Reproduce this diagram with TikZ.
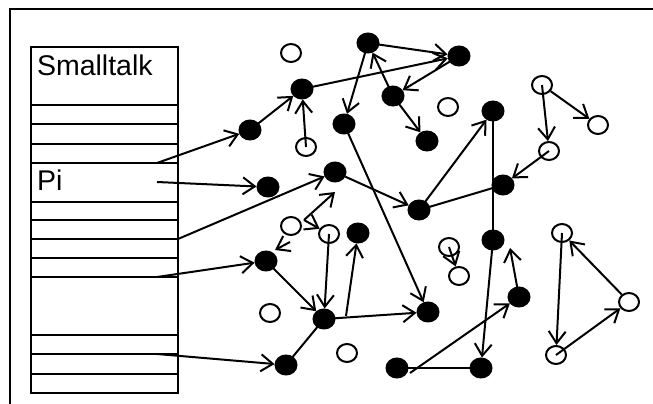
\documentclass[tikz,border=0pt]{standalone}
\usepackage{fontspec}
\setmainfont{Liberation Sans}
\usetikzlibrary{arrows.meta,shapes.geometric}
\begin{document}
\begin{tikzpicture}[x=1pt,y=-1pt,
  line width=2pt,
  full/.style={ellipse,fill=black,draw=black,minimum width=21pt,minimum height=19pt,inner sep=0pt},
  hollow/.style={ellipse,fill=white,draw=black,minimum width=20pt,minimum height=18pt,inner sep=0pt},
  ptr/.style={-{Straight Barb[length=12pt,width=17pt,line width=2pt]}},
  slot/.style={line width=2pt},
  lbl/.style={anchor=base west,inner sep=0pt,font=\fontsize{28.5}{28.5}\selectfont}]
\useasboundingbox (0,0) rectangle (653,404);
% outer frame
\draw[line width=1.4pt] (10,404) -- (10,9) -- (653,9);
% the Smalltalk object with its slots
\draw[slot] (31,47) rectangle (178,393);
\foreach \y in {105,124,144,163,202,220,239,258,277,335,354,374}
  \draw[slot] (31,\y) -- (178,\y);
\node[lbl] (st) at (36,76) {Smalltalk};
\node[lbl] (pi) at (36,190) {Pi};
% slot pointers start here
\coordinate (s1) at (157,163);
\coordinate (s2) at (157,182);
\coordinate (s3) at (178,239);
\coordinate (s4) at (157,277);
\coordinate (s5) at (157,354);
% live objects
\node[full] (b1) at (368,43) {};
\node[full] (b2) at (459,56) {};
\node[full] (b3) at (302,89) {};
\node[full] (b4) at (393,96) {};
\node[full] (b5) at (250,130) {};
\node[full] (b6) at (344,124) {};
\node[full] (b7) at (427,141) {};
\node[full] (b8) at (493,111) {};
\node[full] (b9) at (335,172) {};
\node[full] (b10) at (268,187) {};
\node[full] (b11) at (503,185) {};
\node[full] (b12) at (419,210) {};
\node[full] (b13) at (358,233) {};
\node[full] (b14) at (493,240) {};
\node[full] (b15) at (266,261) {};
\node[full] (b16) at (519,297) {};
\node[full] (b17) at (324,319) {};
\node[full] (b18) at (428,312) {};
\node[full] (b19) at (286,365) {};
\node[full] (b20) at (397,368) {};
\node[full] (b21) at (481,368) {};
% garbage objects
\node[hollow] (w1) at (291,53) {};
\node[hollow] (w2) at (306,147) {};
\node[hollow] (w3) at (448,107) {};
\node[hollow] (w4) at (542,85) {};
\node[hollow] (w5) at (598,125) {};
\node[hollow] (w6) at (549,151) {};
\node[hollow] (w7) at (291,226) {};
\node[hollow] (w8) at (329,234) {};
\node[hollow] (w9) at (449,247) {};
\node[hollow] (w10) at (459,276) {};
\node[hollow] (w11) at (562,233) {};
\node[hollow] (w12) at (629,302) {};
\node[hollow] (w13) at (556,355) {};
\node[hollow] (w14) at (270,313) {};
\node[hollow] (w15) at (347,353) {};
% free ends of dangling pointers
\coordinate (f1) at (335,192);
\coordinate (f2) at (275,250);
\coordinate (f3) at (510,248);
\coordinate (g1) at (304,220);
\coordinate (g2) at (290,242);
\coordinate (j1) at (346,316);
\coordinate (j2) at (410,373);
% references from the slots
\draw[ptr] (s1) -- (b5);
\draw[ptr] (s2) -- (b10);
\draw[ptr] (s3) -- (b9);
\draw[ptr] (s4) -- (b15);
\draw[ptr] (s5) -- (b19);
% references between live objects
\draw[ptr] (b5.center) -- (b3);
\draw[ptr] (w2.center) -- (b3);
\draw[ptr] (b3.center) -- (b2);
\draw[ptr] (b1.center) -- (b2);
\draw[ptr] (b2.center) -- (b4);
\draw[ptr] (b4.center) -- (b1);
\draw[ptr] (b4.center) -- (b7);
\draw[ptr] (b1.center) -- (b6);
\draw[ptr] (b6.center) -- (b18);
\draw[ptr] (b9) -- (b12);
\draw[ptr] (b12.center) -- (b8);
\draw (b8.center) -- (b14.center);
\draw[ptr] (b14.center) -- (b21);
\draw (b12.center) -- (b11.center);
\draw[ptr] (b16.center) -- (f3);
\draw[ptr] (j2) -- (b16);
\draw (b20.center) -- (b21.center);
\draw[ptr] (j1) -- (b13);
\draw[ptr] (b17.center) -- (b18);
\draw[ptr] (b15.center) -- (b17);
\draw (b19.center) -- (b17.center);
% references held by garbage
\draw[ptr] (w6.center) -- (b11);
\draw[ptr] (w4.center) -- (w6);
\draw[ptr] (w4) -- (w5);
\draw[ptr] (w9.center) -- (w10);
\draw[ptr] (w8.center) -- (b17);
\draw[ptr] (g1) -- (f1);
\draw[ptr] (g1) -- (w8);
\draw[ptr] (g2) -- (f2);
\draw[ptr] (w11.center) -- (w13);
\draw[ptr] (w13.center) -- (w12);
\draw[ptr] (w12) -- (w11);
\end{tikzpicture}
\end{document}
